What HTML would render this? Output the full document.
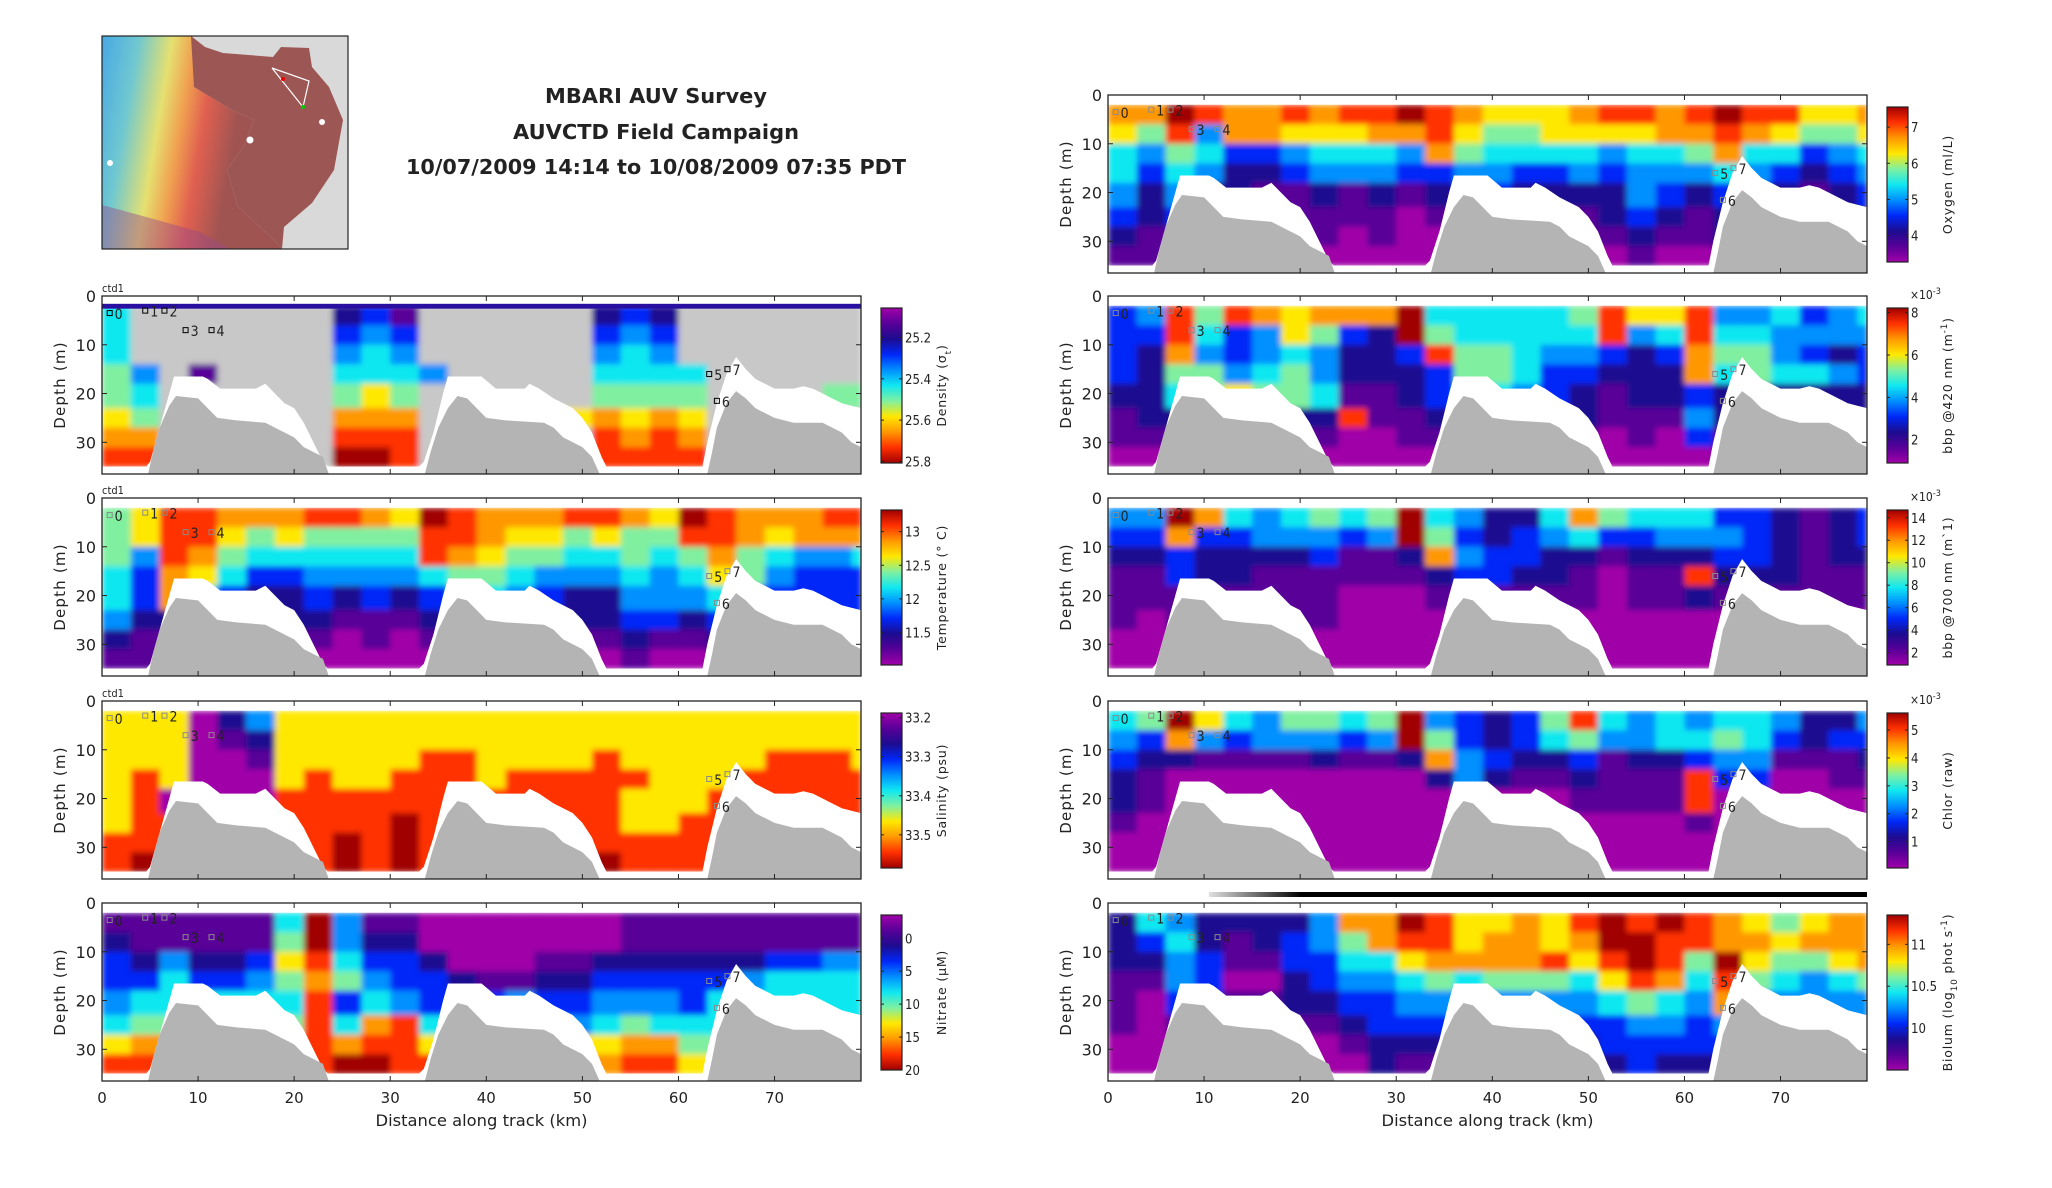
<!DOCTYPE html>
<html><head><meta charset="utf-8">
<style>
body{margin:0;background:#fff}
svg{display:block}
text{font-family:"DejaVu Sans","Liberation Sans",sans-serif;fill:#222}
.cond{font-family:"DejaVu Sans Condensed","DejaVu Sans","Liberation Sans",sans-serif}
</style></head>
<body>
<svg id="fig" width="2052" height="1188" viewBox="0 0 2052 1188" xmlns="http://www.w3.org/2000/svg">
<defs>
<linearGradient id="mapGrad" x1="0" y1="0" x2="1" y2="0.2">
<stop offset="0" stop-color="#48a8e4"/><stop offset="0.2" stop-color="#70c8d0"/><stop offset="0.38" stop-color="#e6e070"/><stop offset="0.5" stop-color="#f0a050"/><stop offset="0.62" stop-color="#e06050"/><stop offset="0.8" stop-color="#a05452"/>
</linearGradient>
<linearGradient id="bioBar" x1="0" y1="0" x2="1" y2="0">
<stop offset="0" stop-color="#e0e0e0"/><stop offset="0.14" stop-color="#000"/><stop offset="1" stop-color="#000"/>
</linearGradient>
<filter id="soft" x="0" y="0" width="1" height="1">
<feGaussianBlur stdDeviation="3" edgeMode="duplicate"/>
</filter>
</defs>
<g>
<rect x="102" y="36" width="246" height="213" fill="#d9d9d9"/>
<polygon points="102,36 192,36 194,87 232,110 254,120 243,147 227,170 238,207 271,237 282,249 102,249" fill="url(#mapGrad)"/>
<polygon points="102,205 150,218 200,232 230,249 102,249" fill="#9a4a8a" opacity="0.45"/>
<polygon points="191,36 205,47 223,53 273,57 281,47 309,48 312,67 329,87 343,120 334,170 312,203 284,227 282,249 271,237 238,207 227,170 243,147 254,120 232,110 194,87" fill="#9c5654"/>
<polyline points="272,68 309,81 303,107 272,68" fill="none" stroke="#fff" stroke-width="1.2"/>
<circle cx="283" cy="79" r="2" fill="#e00"/><circle cx="303" cy="107" r="2" fill="#0c0"/>
<circle cx="110" cy="163" r="3" fill="#fff"/><circle cx="250" cy="140" r="3.5" fill="#fff"/><circle cx="322" cy="122" r="3" fill="#fff"/>
<rect x="102" y="36" width="246" height="213" fill="none" stroke="#222" stroke-width="1.2"/>
</g>
<g font-weight="bold" text-anchor="middle">
<text x="656" y="103" font-size="20" textLength="222" lengthAdjust="spacingAndGlyphs" fill="#000">MBARI AUV Survey</text>
<text x="656" y="139" font-size="20" textLength="286" lengthAdjust="spacingAndGlyphs" fill="#000">AUVCTD Field Campaign</text>
<text x="656" y="174" font-size="20" textLength="500" lengthAdjust="spacingAndGlyphs" fill="#000">10/07/2009 14:14 to 10/08/2009 07:35 PDT</text>
</g>
</svg>
<script>
const kmMax = 79, depthMax = 36.5, colKm = 3;
const rowTopDepths = [2, 6, 10, 14, 18, 23, 27, 31];
const rowBottomDepth = 35;
const xTickValues = [0, 10, 20, 30, 40, 50, 60, 70];
const yTickValues = [0, 10, 20, 30];
const bathyKm = [0,4.8,5.3,6,7,7.7,10,11,12,14,17,18,19,20,21,22,23,23.6, 33.6,34.2,35,36,37,38,39,40,42,46,47,48,49,50,51,51.8, 63,63.5,64,65,66,67,68,69,70,72,75,76,77,78,79];
const bathyDepth = [36.5,36.5,32,27,22.5,20.5,21,23,25,25.5,26,27,28,29,31,32,33,36.5, 36.5,32,27,23,20.5,21,23,25,25.5,26,27,29,30,31,33,36.5, 36.5,32,27,22,19.5,21,23,24,25,26,26,27,28,30,31];
const dataLimitKm = [0,4.6,5,7.5,10.5,11,12.3,16,17,18,19,20,21,22,23,23.5, 33,33.5,34.5,35.5,36,39.5,41,44,44.5,45.5,47,49,50,51,52,52.5, 62.5,63,64,65,66,67,68,69,70,72,73,74,75,76,77,78,79];
const dataLimitDepth = [35,35,34,16.5,16.5,17,19,19,18,20,22,23,26,30,34,35, 35,34,28,20,16.5,16.5,19,19,18,19,21,23,25,28,33,35, 35,30,22,16,12.5,15,17,18,19,19,18.5,19,20,21,22,22.5,23];
const stationLabels = ['0','1','2','3','4','5','6','7'];
const stationKm = [0.8,4.5,6.5,8.7,11.4,63.2,64.0,65.1];
const stationDepth = [3.5,3,3,7,7,16,21.5,15];
const palette = ['#a000a8','#580098','#1c0c90','#0028f8','#0090ff','#10e8f0','#80f0a0','#ffe800','#ff9800','#ff3000','#a00000'];

const densityGrid = ["5ggggggg231gggggg232ggggggg","5ggggggg343gggggg343ggggggg","5ggggggg454gggggg454ggggggg","64g1gggg5554ggggg5555gggggg","65gggggg676gggggg6666gggg66","76gggggg888ggggg78787gggggg","88gggggg999gggggg9898gggggg","99ggggggaa9gggggg9999gggggg"];
const temperatureGrid = ["67998889987a98889987a988899","679976766669987767669987888","649865555559876655656865445","538753344445665444545764333","538532232323554322444533333","422222221112222222332333333","211111110101111111211222222","110000000000000000100111111"];
const salinityGrid = ["777024777777777777777777777","777012777777777777777777777","777001777779977779777779997","797000797799979999977799999","790000999999999999777999999","7999999999a9999999779999999","99999999a9a9999999999999999","9a999999a9a999999a999999999"];
const nitrateGrid = ["1111115a411000000011111111 1".replace(' ',''),"2111116a422000000011111111 1".replace(' ',''),"324223795332000112222223344","335334686433211223333345555","455555593543334334443555555","566666695895555545655555555","788888898997777777886666666","99999999aa99888888997777777"];
const oxygenGrid = ["88a9889899a9877789989a99778","769488777889766777788987667","546533455548655554556855345","535422344433443343444543234","424221121212332222432332123","323111111101111112321222222","211111110100111111211222222","110000000000000000100111111"];
const bbp420Grid = ["3496987888a5555569779445345","3395347632a6555559459554444","328434542239665443238664323","326645642223665332228565543","225676651123554321223222222","122222229112222221114222222","111111110011111110103111111","000000000000000000000111111"];
const bbp700Grid = ["44a8545656a5422586555332123","3383344434a6323453344432123","223222231128433221222332122","113221111112332210119222111","111111110001111110112111111","101111110000000000000000000","000000000000000000000000000","000000000000000000000000000"];
const chlorGrid = ["56a7546656a4323695454554224","4384344434a6323564455653233","322111121128432231223441112","210000000002421121119330011","210000000000000011119000000","100000000000000000001000000","000000000000000000000000000","000000000000000000000000000"];
const biolumGrid = ["2542222488a977879a9a9876788","23521234689978878aa99887888","224311335578888979a96a76678","114300234456566657985965456","103311223344444445654844444","101111112333333333443444444","000000001222222223333333333","000000000211111112322222222"];

const densityTicks = [25.2, 25.4, 25.6, 25.8], densityRange = [25.0575, 25.8075];
const temperatureTicks = [13, 12.5, 12, 11.5], temperatureRange = [13.323, 11.015];
const salinityTicks = [33.2, 33.3, 33.4, 33.5], salinityRange = [33.188, 33.585];
const nitrateTicks = [0, 5, 10, 15, 20], nitrateRange = [-3.53, 20];
const oxygenTicks = [7, 6, 5, 4], oxygenRange = [7.557, 3.27];
const bbp420Ticks = [8, 6, 4, 2], bbp420Range = [8.22, 0.90];
const bbp700Ticks = [14, 12, 10, 8, 6, 4, 2], bbp700Range = [14.69, 0.90];
const chlorTicks = [5, 4, 3, 2, 1], chlorRange = [5.61, 0.056];
const biolumTicks = [11, 10.5, 10], biolumRange = [11.35, 9.5];

const NS = 'http://www.w3.org/2000/svg';
const svg = document.getElementById('fig');
const defs = svg.querySelector('defs');
function mk(tag, parent, attrs) {
  const e = document.createElementNS(NS, tag);
  for (const k in attrs) e.setAttribute(k, attrs[k]);
  parent.appendChild(e);
  return e;
}
['up', 'down'].forEach(dir => {
  const g = mk('linearGradient', defs, {id: 'jet-' + dir, x1: 0, x2: 0, y1: dir === 'up' ? 1 : 0, y2: dir === 'up' ? 0 : 1});
  palette.forEach((c, i) => mk('stop', g, {offset: i / (palette.length - 1), 'stop-color': c}));
});

const W = 759, H = 178;
const panels = [
  {name: 'density', x0: 102, y0: 296, grid: densityGrid, ticks: densityTicks, range: densityRange, grad: 'down', title: ['Density (σ', 't', ')'], ctd: true, markDark: true},
  {name: 'temperature', x0: 102, y0: 498, grid: temperatureGrid, ticks: temperatureTicks, range: temperatureRange, grad: 'up', title: ['Temperature (° C)'], ctd: true},
  {name: 'salinity', x0: 102, y0: 701, grid: salinityGrid, ticks: salinityTicks, range: salinityRange, grad: 'down', title: ['Salinity (psu)'], ctd: true},
  {name: 'nitrate', x0: 102, y0: 903, grid: nitrateGrid, ticks: nitrateTicks, range: nitrateRange, grad: 'down', title: ['Nitrate (µM)'], xlab: true},
  {name: 'oxygen', x0: 1108, y0: 95, grid: oxygenGrid, ticks: oxygenTicks, range: oxygenRange, grad: 'up', title: ['Oxygen (ml/L)']},
  {name: 'bbp420', x0: 1108, y0: 296, grid: bbp420Grid, ticks: bbp420Ticks, range: bbp420Range, grad: 'up', title: ['bbp @420 nm (m', '-1', ')'], exp: true},
  {name: 'bbp700', x0: 1108, y0: 498, grid: bbp700Grid, ticks: bbp700Ticks, range: bbp700Range, grad: 'up', title: ['bbp @700 nm (m`1)'], exp: true},
  {name: 'chlor', x0: 1108, y0: 701, grid: chlorGrid, ticks: chlorTicks, range: chlorRange, grad: 'up', title: ['Chlor (raw)'], exp: true},
  {name: 'biolum', x0: 1108, y0: 903, grid: biolumGrid, ticks: biolumTicks, range: biolumRange, grad: 'up', title: ['Biolum (log', '10', ' phot s', '-1', ')'], xlab: true, bio: true}
];

panels.forEach(p => {
  const xs = km => p.x0 + km / kmMax * W;
  const ys = d => p.y0 + d / depthMax * H;
  const g = mk('g', svg, {});
  
  
  const cp = mk('clipPath', defs, {id: 'clip-' + p.name});
  mk('rect', cp, {x: xs(0), y: ys(rowTopDepths[0]), width: W, height: ys(rowBottomDepth) - ys(rowTopDepths[0])});
  const hmWrap = mk('g', g, {'clip-path': `url(#clip-${p.name})`});
  const hm = mk('g', hmWrap, {filter: 'url(#soft)'});
  
  
  p.grid.forEach((row, r) => {
    const d0 = rowTopDepths[r];
    const d1 = r + 1 < rowTopDepths.length ? rowTopDepths[r + 1] : rowBottomDepth;
    for (let c = 0; c < row.length; c++) {
      const ch = row[c];
      const k0 = c * colKm;
      if (k0 >= kmMax) break;
      const k1 = Math.min(kmMax, (c + 1) * colKm);
      const fill = ch === 'g' ? '#c8c8c8' : palette[parseInt(ch, 16)];
      const cell = mk('rect', hm, {x: xs(k0), y: ys(d0), width: xs(k1) - xs(k0) + 0.6, height: ys(d1) - ys(d0) + 0.6, fill: fill});
      
      
    }
  });
  if (p.name === 'density') {
    const s = mk('rect', g, {x: xs(0), y: ys(1.6), width: W, height: ys(2.6) - ys(1.6), fill: '#2a10a0'});
    
    
  }
  let pts = dataLimitKm.map((k, i) => xs(k) + ',' + ys(dataLimitDepth[i])).join(' ');
  pts += ' ' + xs(kmMax) + ',' + ys(depthMax) + ' ' + xs(0) + ',' + ys(depthMax);
  const wpoly = mk('polygon', g, {points: pts, fill: '#fff'});
  
  
  let bpts = bathyKm.map((k, i) => xs(k) + ',' + ys(bathyDepth[i])).join(' ');
  bpts += ' ' + xs(kmMax) + ',' + ys(depthMax) + ' ' + xs(0) + ',' + ys(depthMax);
  const bpoly = mk('polygon', g, {points: bpts, fill: '#b4b4b4'});
  
  
  const mcol = p.markDark ? '#000' : '#8a8a8a';
  stationLabels.forEach((lab, i) => {
    const sx = xs(stationKm[i]), sy = ys(stationDepth[i]);
    const sq = mk('rect', g, {x: sx - 2.5, y: sy - 2.5, width: 5, height: 5, fill: 'none', stroke: mcol, 'stroke-width': 1});
    
    
    const t = mk('text', g, {x: sx + 5, y: sy + 6, 'font-size': 14, class: 'cond', fill: mcol});
    t.textContent = lab;
    
    
  });
  const fr = mk('rect', g, {x: p.x0, y: p.y0, width: W, height: H, fill: 'none', stroke: '#222', 'stroke-width': 1.3});
  
  
  xTickValues.forEach(v => {
    mk('line', g, {x1: xs(v), x2: xs(v), y1: p.y0 + H, y2: p.y0 + H - 5, stroke: '#222'});
    mk('line', g, {x1: xs(v), x2: xs(v), y1: p.y0, y2: p.y0 + 5, stroke: '#222'});
    if (p.xlab) {
      const t = mk('text', g, {x: xs(v), y: p.y0 + H + 22, 'font-size': 15, 'text-anchor': 'middle'});
      t.textContent = v;
      
      
    }
  });
  yTickValues.forEach(v => {
    mk('line', g, {x1: p.x0, x2: p.x0 + 5, y1: ys(v), y2: ys(v), stroke: '#222'});
    mk('line', g, {x1: p.x0 + W, x2: p.x0 + W - 5, y1: ys(v), y2: ys(v), stroke: '#222'});
    const t = mk('text', g, {x: p.x0 - 6, y: ys(v) + 6, 'font-size': 16, 'text-anchor': 'end'});
    t.textContent = v;
    
    
  });
  const yt = mk('text', g, {x: p.x0 - 37, y: p.y0 + H / 2, 'font-size': 15, 'letter-spacing': 1.2, 'text-anchor': 'middle', transform: `rotate(-90 ${p.x0 - 37} ${p.y0 + H / 2})`});
  yt.textContent = 'Depth (m)';
  
  
  if (p.xlab) {
    const xt = mk('text', g, {x: p.x0 + W / 2, y: p.y0 + H + 45, 'font-size': 16, 'text-anchor': 'middle', textLength: 212, lengthAdjust: 'spacingAndGlyphs'});
    xt.textContent = 'Distance along track (km)';
    
    
  }
  if (p.ctd) {
    const ct = mk('text', g, {x: p.x0, y: p.y0 - 4, 'font-size': 11, class: 'cond'});
    ct.textContent = 'ctd1';
    
    
  }
  if (p.bio) {
    const bb = mk('rect', g, {x: xs(10.5), y: p.y0 - 11, width: xs(kmMax) - xs(10.5), height: 5, fill: 'url(#bioBar)'});
    
    
  }
  const cbx = p.x0 + W + 20, cbt = p.y0 + 12, cbh = 155, cbw = 21;
  const cb = mk('rect', g, {x: cbx, y: cbt, width: cbw, height: cbh, fill: `url(#jet-${p.grad})`, stroke: '#222', 'stroke-width': 1.2});
  
  
  const [top, bot] = p.range;
  p.ticks.forEach(v => {
    const y = cbt + (v - top) / (bot - top) * cbh;
    mk('line', g, {x1: cbx, x2: cbx + 3, y1: y, y2: y, stroke: '#222'});
    mk('line', g, {x1: cbx + cbw, x2: cbx + cbw - 3, y1: y, y2: y, stroke: '#222'});
    const t = mk('text', g, {x: cbx + cbw + 3, y: y + 5, 'font-size': 13, class: 'cond'});
    t.textContent = v;
    
    
  });
  if (p.exp) {
    const e = mk('text', g, {x: cbx + cbw + 2, y: p.y0 + 3, 'font-size': 12, class: 'cond', fill: '#555'});
    e.textContent = '×10';
    const s = mk('tspan', e, {'baseline-shift': 'super', 'font-size': 9});
    s.textContent = '-3';
    
    
  }
  const tx = cbx + cbw + 44, ty = cbt + cbh / 2;
  const tt = mk('text', g, {x: tx, y: ty, 'font-size': 12.5, 'letter-spacing': 0.8, 'text-anchor': 'middle', transform: `rotate(-90 ${tx} ${ty})`});
  p.title.forEach((part, i) => {
    const isScript = i % 2 === 1;
    const sp = mk('tspan', tt, isScript ? {'font-size': 9, 'baseline-shift': (part === 't' || part === '10') ? 'sub' : 'super'} : {});
    sp.textContent = part;
  });
  
  
});
</script>
</body></html>
